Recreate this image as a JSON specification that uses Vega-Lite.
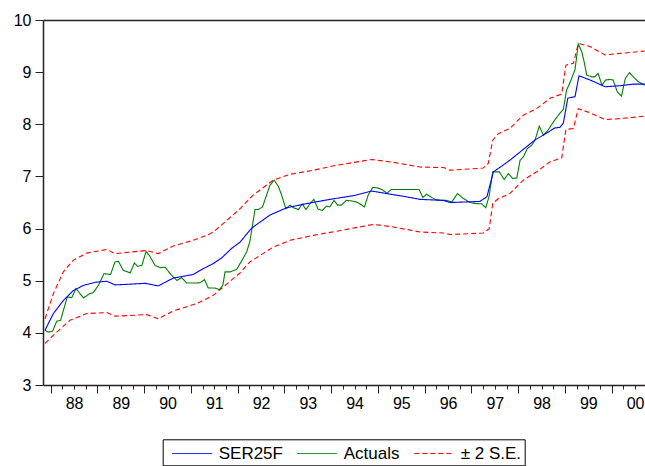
{
  "$schema": "https://vega.github.io/schema/vega-lite/v6.json",
  "width": 602,
  "height": 365,
  "autosize": "none",
  "padding": {"left": 43, "top": 20, "right": 0, "bottom": 81},
  "background": "white",
  "config": {"view": {"stroke": null}, "font": "Liberation Sans"},
  "data": {"values": [
    {"t":1987.878,"v":4.27,"s":"± 2 S.E.","p":"u"},{"t":1988.056,"v":4.75,"s":"± 2 S.E.","p":"u"},{"t":1988.27,"v":5.17,"s":"± 2 S.E.","p":"u"},{"t":1988.48,"v":5.39,"s":"± 2 S.E.","p":"u"},{"t":1988.77,"v":5.53,"s":"± 2 S.E.","p":"u"},{"t":1989.2,"v":5.6,"s":"± 2 S.E.","p":"u"},{"t":1989.375,"v":5.52,"s":"± 2 S.E.","p":"u"},{"t":1990.05,"v":5.58,"s":"± 2 S.E.","p":"u"},{"t":1990.3,"v":5.52,"s":"± 2 S.E.","p":"u"},{"t":1990.62,"v":5.665,"s":"± 2 S.E.","p":"u"},{"t":1991.05,"v":5.775,"s":"± 2 S.E.","p":"u"},{"t":1991.34,"v":5.87,"s":"± 2 S.E.","p":"u"},{"t":1991.48,"v":5.935,"s":"± 2 S.E.","p":"u"},{"t":1991.77,"v":6.16,"s":"± 2 S.E.","p":"u"},{"t":1992.05,"v":6.38,"s":"± 2 S.E.","p":"u"},{"t":1992.26,"v":6.58,"s":"± 2 S.E.","p":"u"},{"t":1992.33,"v":6.64,"s":"± 2 S.E.","p":"u"},{"t":1992.76,"v":6.93,"s":"± 2 S.E.","p":"u"},{"t":1993.12,"v":7.04,"s":"± 2 S.E.","p":"u"},{"t":1993.62,"v":7.12,"s":"± 2 S.E.","p":"u"},{"t":1994.12,"v":7.215,"s":"± 2 S.E.","p":"u"},{"t":1994.87,"v":7.325,"s":"± 2 S.E.","p":"u"},{"t":1995.33,"v":7.27,"s":"± 2 S.E.","p":"u"},{"t":1995.9,"v":7.18,"s":"± 2 S.E.","p":"u"},{"t":1996.4,"v":7.17,"s":"± 2 S.E.","p":"u"},{"t":1996.54,"v":7.12,"s":"± 2 S.E.","p":"u"},{"t":1997.25,"v":7.16,"s":"± 2 S.E.","p":"u"},{"t":1997.36,"v":7.25,"s":"± 2 S.E.","p":"u"},{"t":1997.455,"v":7.695,"s":"± 2 S.E.","p":"u"},{"t":1997.575,"v":7.82,"s":"± 2 S.E.","p":"u"},{"t":1997.82,"v":7.92,"s":"± 2 S.E.","p":"u"},{"t":1998.11,"v":8.175,"s":"± 2 S.E.","p":"u"},{"t":1998.395,"v":8.3,"s":"± 2 S.E.","p":"u"},{"t":1998.68,"v":8.5,"s":"± 2 S.E.","p":"u"},{"t":1998.93,"v":8.58,"s":"± 2 S.E.","p":"u"},{"t":1999.02,"v":9.135,"s":"± 2 S.E.","p":"u"},{"t":1999.18,"v":9.17,"s":"± 2 S.E.","p":"u"},{"t":1999.285,"v":9.55,"s":"± 2 S.E.","p":"u"},{"t":1999.535,"v":9.49,"s":"± 2 S.E.","p":"u"},{"t":1999.86,"v":9.33,"s":"± 2 S.E.","p":"u"},{"t":2000.18,"v":9.36,"s":"± 2 S.E.","p":"u"},{"t":2000.71,"v":9.405,"s":"± 2 S.E.","p":"u"},
    {"t":1987.878,"v":3.8,"s":"± 2 S.E.","p":"l"},{"t":1988.13,"v":4.015,"s":"± 2 S.E.","p":"l"},{"t":1988.41,"v":4.24,"s":"± 2 S.E.","p":"l"},{"t":1988.77,"v":4.37,"s":"± 2 S.E.","p":"l"},{"t":1989.2,"v":4.39,"s":"± 2 S.E.","p":"l"},{"t":1989.375,"v":4.32,"s":"± 2 S.E.","p":"l"},{"t":1990.05,"v":4.35,"s":"± 2 S.E.","p":"l"},{"t":1990.3,"v":4.27,"s":"± 2 S.E.","p":"l"},{"t":1990.62,"v":4.42,"s":"± 2 S.E.","p":"l"},{"t":1991.12,"v":4.56,"s":"± 2 S.E.","p":"l"},{"t":1991.48,"v":4.72,"s":"± 2 S.E.","p":"l"},{"t":1991.77,"v":4.94,"s":"± 2 S.E.","p":"l"},{"t":1992.05,"v":5.15,"s":"± 2 S.E.","p":"l"},{"t":1992.26,"v":5.36,"s":"± 2 S.E.","p":"l"},{"t":1992.33,"v":5.4,"s":"± 2 S.E.","p":"l"},{"t":1992.76,"v":5.645,"s":"± 2 S.E.","p":"l"},{"t":1993.12,"v":5.775,"s":"± 2 S.E.","p":"l"},{"t":1993.62,"v":5.87,"s":"± 2 S.E.","p":"l"},{"t":1994.12,"v":5.95,"s":"± 2 S.E.","p":"l"},{"t":1994.9,"v":6.08,"s":"± 2 S.E.","p":"l"},{"t":1995.33,"v":6.03,"s":"± 2 S.E.","p":"l"},{"t":1995.9,"v":5.935,"s":"± 2 S.E.","p":"l"},{"t":1996.4,"v":5.915,"s":"± 2 S.E.","p":"l"},{"t":1996.54,"v":5.885,"s":"± 2 S.E.","p":"l"},{"t":1997.25,"v":5.915,"s":"± 2 S.E.","p":"l"},{"t":1997.38,"v":6.0,"s":"± 2 S.E.","p":"l"},{"t":1997.455,"v":6.48,"s":"± 2 S.E.","p":"l"},{"t":1997.575,"v":6.575,"s":"± 2 S.E.","p":"l"},{"t":1997.82,"v":6.67,"s":"± 2 S.E.","p":"l"},{"t":1998.11,"v":6.93,"s":"± 2 S.E.","p":"l"},{"t":1998.395,"v":7.09,"s":"± 2 S.E.","p":"l"},{"t":1998.68,"v":7.28,"s":"± 2 S.E.","p":"l"},{"t":1998.93,"v":7.355,"s":"± 2 S.E.","p":"l"},{"t":1999.02,"v":7.9,"s":"± 2 S.E.","p":"l"},{"t":1999.18,"v":7.92,"s":"± 2 S.E.","p":"l"},{"t":1999.285,"v":8.3,"s":"± 2 S.E.","p":"l"},{"t":1999.535,"v":8.22,"s":"± 2 S.E.","p":"l"},{"t":1999.86,"v":8.09,"s":"± 2 S.E.","p":"l"},{"t":2000.18,"v":8.11,"s":"± 2 S.E.","p":"l"},{"t":2000.71,"v":8.155,"s":"± 2 S.E.","p":"l"},
    {"t":1987.878,"v":4.05,"s":"Actuals","p":"a"},{"t":1987.95,"v":4.015,"s":"Actuals","p":"a"},{"t":1988.04,"v":4.03,"s":"Actuals","p":"a"},{"t":1988.13,"v":4.225,"s":"Actuals","p":"a"},{"t":1988.21,"v":4.24,"s":"Actuals","p":"a"},{"t":1988.355,"v":4.69,"s":"Actuals","p":"a"},{"t":1988.45,"v":4.675,"s":"Actuals","p":"a"},{"t":1988.54,"v":4.85,"s":"Actuals","p":"a"},{"t":1988.7,"v":4.67,"s":"Actuals","p":"a"},{"t":1988.83,"v":4.75,"s":"Actuals","p":"a"},{"t":1988.91,"v":4.77,"s":"Actuals","p":"a"},{"t":1989.02,"v":4.91,"s":"Actuals","p":"a"},{"t":1989.14,"v":5.135,"s":"Actuals","p":"a"},{"t":1989.28,"v":5.12,"s":"Actuals","p":"a"},{"t":1989.375,"v":5.36,"s":"Actuals","p":"a"},{"t":1989.45,"v":5.37,"s":"Actuals","p":"a"},{"t":1989.55,"v":5.2,"s":"Actuals","p":"a"},{"t":1989.7,"v":5.15,"s":"Actuals","p":"a"},{"t":1989.79,"v":5.34,"s":"Actuals","p":"a"},{"t":1989.86,"v":5.275,"s":"Actuals","p":"a"},{"t":1989.95,"v":5.295,"s":"Actuals","p":"a"},{"t":1990.04,"v":5.56,"s":"Actuals","p":"a"},{"t":1990.12,"v":5.47,"s":"Actuals","p":"a"},{"t":1990.23,"v":5.295,"s":"Actuals","p":"a"},{"t":1990.34,"v":5.25,"s":"Actuals","p":"a"},{"t":1990.445,"v":5.26,"s":"Actuals","p":"a"},{"t":1990.59,"v":5.1,"s":"Actuals","p":"a"},{"t":1990.7,"v":5.005,"s":"Actuals","p":"a"},{"t":1990.8,"v":5.06,"s":"Actuals","p":"a"},{"t":1990.91,"v":4.955,"s":"Actuals","p":"a"},{"t":1991.05,"v":4.955,"s":"Actuals","p":"a"},{"t":1991.19,"v":4.96,"s":"Actuals","p":"a"},{"t":1991.29,"v":5.02,"s":"Actuals","p":"a"},{"t":1991.37,"v":4.86,"s":"Actuals","p":"a"},{"t":1991.51,"v":4.86,"s":"Actuals","p":"a"},{"t":1991.61,"v":4.83,"s":"Actuals","p":"a"},{"t":1991.68,"v":4.91,"s":"Actuals","p":"a"},{"t":1991.73,"v":5.17,"s":"Actuals","p":"a"},{"t":1991.84,"v":5.17,"s":"Actuals","p":"a"},{"t":1991.98,"v":5.22,"s":"Actuals","p":"a"},{"t":1992.09,"v":5.39,"s":"Actuals","p":"a"},{"t":1992.19,"v":5.55,"s":"Actuals","p":"a"},{"t":1992.26,"v":5.75,"s":"Actuals","p":"a"},{"t":1992.37,"v":6.365,"s":"Actuals","p":"a"},{"t":1992.44,"v":6.365,"s":"Actuals","p":"a"},{"t":1992.53,"v":6.415,"s":"Actuals","p":"a"},{"t":1992.69,"v":6.83,"s":"Actuals","p":"a"},{"t":1992.78,"v":6.93,"s":"Actuals","p":"a"},{"t":1992.87,"v":6.81,"s":"Actuals","p":"a"},{"t":1992.94,"v":6.64,"s":"Actuals","p":"a"},{"t":1993.03,"v":6.38,"s":"Actuals","p":"a"},{"t":1993.12,"v":6.45,"s":"Actuals","p":"a"},{"t":1993.19,"v":6.4,"s":"Actuals","p":"a"},{"t":1993.3,"v":6.365,"s":"Actuals","p":"a"},{"t":1993.38,"v":6.47,"s":"Actuals","p":"a"},{"t":1993.46,"v":6.365,"s":"Actuals","p":"a"},{"t":1993.55,"v":6.48,"s":"Actuals","p":"a"},{"t":1993.63,"v":6.56,"s":"Actuals","p":"a"},{"t":1993.72,"v":6.37,"s":"Actuals","p":"a"},{"t":1993.81,"v":6.35,"s":"Actuals","p":"a"},{"t":1993.9,"v":6.43,"s":"Actuals","p":"a"},{"t":1993.97,"v":6.415,"s":"Actuals","p":"a"},{"t":1994.06,"v":6.54,"s":"Actuals","p":"a"},{"t":1994.14,"v":6.45,"s":"Actuals","p":"a"},{"t":1994.22,"v":6.45,"s":"Actuals","p":"a"},{"t":1994.32,"v":6.54,"s":"Actuals","p":"a"},{"t":1994.44,"v":6.53,"s":"Actuals","p":"a"},{"t":1994.545,"v":6.51,"s":"Actuals","p":"a"},{"t":1994.62,"v":6.47,"s":"Actuals","p":"a"},{"t":1994.71,"v":6.415,"s":"Actuals","p":"a"},{"t":1994.79,"v":6.64,"s":"Actuals","p":"a"},{"t":1994.89,"v":6.79,"s":"Actuals","p":"a"},{"t":1994.99,"v":6.78,"s":"Actuals","p":"a"},{"t":1995.08,"v":6.75,"s":"Actuals","p":"a"},{"t":1995.19,"v":6.68,"s":"Actuals","p":"a"},{"t":1995.29,"v":6.75,"s":"Actuals","p":"a"},{"t":1995.435,"v":6.75,"s":"Actuals","p":"a"},{"t":1995.615,"v":6.75,"s":"Actuals","p":"a"},{"t":1995.76,"v":6.75,"s":"Actuals","p":"a"},{"t":1995.88,"v":6.75,"s":"Actuals","p":"a"},{"t":1995.96,"v":6.595,"s":"Actuals","p":"a"},{"t":1996.04,"v":6.66,"s":"Actuals","p":"a"},{"t":1996.15,"v":6.595,"s":"Actuals","p":"a"},{"t":1996.22,"v":6.56,"s":"Actuals","p":"a"},{"t":1996.36,"v":6.54,"s":"Actuals","p":"a"},{"t":1996.47,"v":6.54,"s":"Actuals","p":"a"},{"t":1996.58,"v":6.51,"s":"Actuals","p":"a"},{"t":1996.7,"v":6.67,"s":"Actuals","p":"a"},{"t":1996.83,"v":6.575,"s":"Actuals","p":"a"},{"t":1996.97,"v":6.5,"s":"Actuals","p":"a"},{"t":1997.08,"v":6.48,"s":"Actuals","p":"a"},{"t":1997.22,"v":6.475,"s":"Actuals","p":"a"},{"t":1997.305,"v":6.4,"s":"Actuals","p":"a"},{"t":1997.375,"v":6.61,"s":"Actuals","p":"a"},{"t":1997.455,"v":7.087,"s":"Actuals","p":"a"},{"t":1997.595,"v":7.087,"s":"Actuals","p":"a"},{"t":1997.7,"v":6.94,"s":"Actuals","p":"a"},{"t":1997.79,"v":7.055,"s":"Actuals","p":"a"},{"t":1997.88,"v":6.96,"s":"Actuals","p":"a"},{"t":1997.97,"v":6.97,"s":"Actuals","p":"a"},{"t":1998.04,"v":7.31,"s":"Actuals","p":"a"},{"t":1998.11,"v":7.375,"s":"Actuals","p":"a"},{"t":1998.195,"v":7.535,"s":"Actuals","p":"a"},{"t":1998.29,"v":7.6,"s":"Actuals","p":"a"},{"t":1998.36,"v":7.695,"s":"Actuals","p":"a"},{"t":1998.45,"v":7.965,"s":"Actuals","p":"a"},{"t":1998.54,"v":7.79,"s":"Actuals","p":"a"},{"t":1998.64,"v":7.89,"s":"Actuals","p":"a"},{"t":1998.78,"v":8.08,"s":"Actuals","p":"a"},{"t":1998.89,"v":8.21,"s":"Actuals","p":"a"},{"t":1998.965,"v":8.285,"s":"Actuals","p":"a"},{"t":1999.035,"v":8.655,"s":"Actuals","p":"a"},{"t":1999.13,"v":8.85,"s":"Actuals","p":"a"},{"t":1999.215,"v":9.05,"s":"Actuals","p":"a"},{"t":1999.285,"v":9.54,"s":"Actuals","p":"a"},{"t":1999.36,"v":9.39,"s":"Actuals","p":"a"},{"t":1999.41,"v":9.2,"s":"Actuals","p":"a"},{"t":1999.465,"v":8.944,"s":"Actuals","p":"a"},{"t":1999.57,"v":8.91,"s":"Actuals","p":"a"},{"t":1999.64,"v":8.91,"s":"Actuals","p":"a"},{"t":1999.71,"v":8.975,"s":"Actuals","p":"a"},{"t":1999.79,"v":8.75,"s":"Actuals","p":"a"},{"t":1999.87,"v":8.85,"s":"Actuals","p":"a"},{"t":1999.965,"v":8.86,"s":"Actuals","p":"a"},{"t":2000.03,"v":8.85,"s":"Actuals","p":"a"},{"t":2000.12,"v":8.62,"s":"Actuals","p":"a"},{"t":2000.21,"v":8.54,"s":"Actuals","p":"a"},{"t":2000.29,"v":8.88,"s":"Actuals","p":"a"},{"t":2000.38,"v":8.99,"s":"Actuals","p":"a"},{"t":2000.46,"v":8.91,"s":"Actuals","p":"a"},{"t":2000.57,"v":8.815,"s":"Actuals","p":"a"},{"t":2000.71,"v":8.75,"s":"Actuals","p":"a"},
    {"t":1987.878,"v":4.05,"s":"SER25F","p":"f"},{"t":1988.056,"v":4.37,"s":"SER25F","p":"f"},{"t":1988.27,"v":4.62,"s":"SER25F","p":"f"},{"t":1988.48,"v":4.81,"s":"SER25F","p":"f"},{"t":1988.7,"v":4.91,"s":"SER25F","p":"f"},{"t":1988.95,"v":4.97,"s":"SER25F","p":"f"},{"t":1989.2,"v":4.99,"s":"SER25F","p":"f"},{"t":1989.375,"v":4.92,"s":"SER25F","p":"f"},{"t":1989.625,"v":4.93,"s":"SER25F","p":"f"},{"t":1990.02,"v":4.95,"s":"SER25F","p":"f"},{"t":1990.3,"v":4.9,"s":"SER25F","p":"f"},{"t":1990.62,"v":5.05,"s":"SER25F","p":"f"},{"t":1991.05,"v":5.12,"s":"SER25F","p":"f"},{"t":1991.26,"v":5.23,"s":"SER25F","p":"f"},{"t":1991.48,"v":5.33,"s":"SER25F","p":"f"},{"t":1991.66,"v":5.44,"s":"SER25F","p":"f"},{"t":1991.87,"v":5.62,"s":"SER25F","p":"f"},{"t":1992.05,"v":5.74,"s":"SER25F","p":"f"},{"t":1992.26,"v":5.97,"s":"SER25F","p":"f"},{"t":1992.33,"v":6.03,"s":"SER25F","p":"f"},{"t":1992.69,"v":6.26,"s":"SER25F","p":"f"},{"t":1993.05,"v":6.4,"s":"SER25F","p":"f"},{"t":1993.48,"v":6.48,"s":"SER25F","p":"f"},{"t":1993.97,"v":6.56,"s":"SER25F","p":"f"},{"t":1994.47,"v":6.63,"s":"SER25F","p":"f"},{"t":1994.87,"v":6.72,"s":"SER25F","p":"f"},{"t":1995.19,"v":6.67,"s":"SER25F","p":"f"},{"t":1995.54,"v":6.62,"s":"SER25F","p":"f"},{"t":1995.9,"v":6.56,"s":"SER25F","p":"f"},{"t":1996.4,"v":6.54,"s":"SER25F","p":"f"},{"t":1996.54,"v":6.5,"s":"SER25F","p":"f"},{"t":1997.18,"v":6.52,"s":"SER25F","p":"f"},{"t":1997.33,"v":6.61,"s":"SER25F","p":"f"},{"t":1997.47,"v":7.09,"s":"SER25F","p":"f"},{"t":1997.65,"v":7.2,"s":"SER25F","p":"f"},{"t":1997.82,"v":7.31,"s":"SER25F","p":"f"},{"t":1998.0,"v":7.44,"s":"SER25F","p":"f"},{"t":1998.18,"v":7.57,"s":"SER25F","p":"f"},{"t":1998.36,"v":7.7,"s":"SER25F","p":"f"},{"t":1998.57,"v":7.81,"s":"SER25F","p":"f"},{"t":1998.78,"v":7.93,"s":"SER25F","p":"f"},{"t":1998.89,"v":7.94,"s":"SER25F","p":"f"},{"t":1998.965,"v":8.02,"s":"SER25F","p":"f"},{"t":1999.06,"v":8.5,"s":"SER25F","p":"f"},{"t":1999.215,"v":8.53,"s":"SER25F","p":"f"},{"t":1999.3,"v":8.93,"s":"SER25F","p":"f"},{"t":1999.535,"v":8.85,"s":"SER25F","p":"f"},{"t":1999.86,"v":8.72,"s":"SER25F","p":"f"},{"t":2000.18,"v":8.74,"s":"SER25F","p":"f"},{"t":2000.46,"v":8.77,"s":"SER25F","p":"f"},{"t":2000.71,"v":8.77,"s":"SER25F","p":"f"}
  ]},
  "resolve": {"axis": {"x": "independent"}},
  "layer": [
    {
      "mark": {"type": "line", "strokeWidth": 1.1},
      "encoding": {
        "x": {"field": "t", "type": "quantitative",
          "scale": {"domain": [1987.835, 2000.712], "nice": false, "zero": false},
          "axis": {"title": null, "orient": "bottom", "values": [1988,1988.25,1988.5,1988.75,1989,1989.25,1989.5,1989.75,1990,1990.25,1990.5,1990.75,1991,1991.25,1991.5,1991.75,1992,1992.25,1992.5,1992.75,1993,1993.25,1993.5,1993.75,1994,1994.25,1994.5,1994.75,1995,1995.25,1995.5,1995.75,1996,1996.25,1996.5,1996.75,1997,1997.25,1997.5,1997.75,1998,1998.25,1998.5,1998.75,1999,1999.25,1999.5,1999.75,2000,2000.25,2000.5],
            "labels": false, "grid": false, "tickSize": 4, "tickColor": "#222", "tickWidth": 1,
            "domainColor": "#222", "domainWidth": 1.5}},
        "y": {"field": "v", "type": "quantitative",
          "scale": {"domain": [3, 10], "nice": false, "zero": false},
          "axis": {"title": null, "values": [3,4,5,6,7,8,9,10], "grid": false, "tickSize": 8, "tickColor": "#222",
            "domainColor": "#222", "domainWidth": 1.5, "labelFontSize": 16, "labelColor": "#000",
            "labelPadding": 4, "labelFont": "Liberation Sans"}},
        "color": {"field": "s", "type": "nominal",
          "scale": {"domain": ["SER25F", "Actuals", "± 2 S.E."], "range": ["#0000ff", "#008000", "#ff0000"]},
          "legend": {"orient": "none", "legendX": 119.7, "legendY": 419.3, "direction": "horizontal",
            "title": null, "strokeColor": "#000", "fillColor": "white", "padding": 3.5,
            "symbolType": "M-0.5,0H3.5", "symbolSize": 400, "symbolStrokeWidth": 1, "symbolOffset": 0.5,
            "labelFontSize": 17, "labelFont": "Liberation Sans", "labelColor": "#000", "labelOffset": 31,
            "columnPadding": 8}},
        "strokeDash": {"field": "s", "type": "nominal",
          "scale": {"domain": ["SER25F", "Actuals", "± 2 S.E."], "range": [[1, 0], [1, 0], [5, 3]]}},
        "detail": {"field": "p", "type": "nominal"},
        "order": {"field": "t", "type": "quantitative"}
      }
    },
    {
      "mark": {"type": "point", "opacity": 0},
      "encoding": {
        "x": {"field": "t", "type": "quantitative",
          "axis": {"title": null, "orient": "bottom", "values": [1988,1989,1990,1991,1992,1993,1994,1995,1996,1997,1998,1999,2000],
            "labels": false, "grid": false, "domain": false, "tickSize": 8, "tickColor": "#222", "tickWidth": 1}}
      }
    },
    {
      "mark": {"type": "point", "opacity": 0},
      "encoding": {
        "x": {"field": "t", "type": "quantitative",
          "axis": {"title": null, "orient": "bottom", "values": [1988.5,1989.5,1990.5,1991.5,1992.5,1993.5,1994.5,1995.5,1996.5,1997.5,1998.5,1999.5,2000.5],
            "labelExpr": "substring(toString(floor(datum.value)), 2)", "ticks": false, "grid": false, "domain": false,
            "labelPadding": 10, "labelFontSize": 16, "labelFont": "Liberation Sans", "labelColor": "#000",
            "labelOverlap": false, "labelFlush": false, "labelBound": false}}
      }
    },
    {
      "mark": {"type": "point", "opacity": 0},
      "encoding": {
        "x": {"field": "t", "type": "quantitative",
          "axis": {"title": null, "orient": "top", "labels": false, "ticks": false, "grid": false,
            "domainColor": "#222", "domainWidth": 1.5}}
      }
    }
  ]
}
